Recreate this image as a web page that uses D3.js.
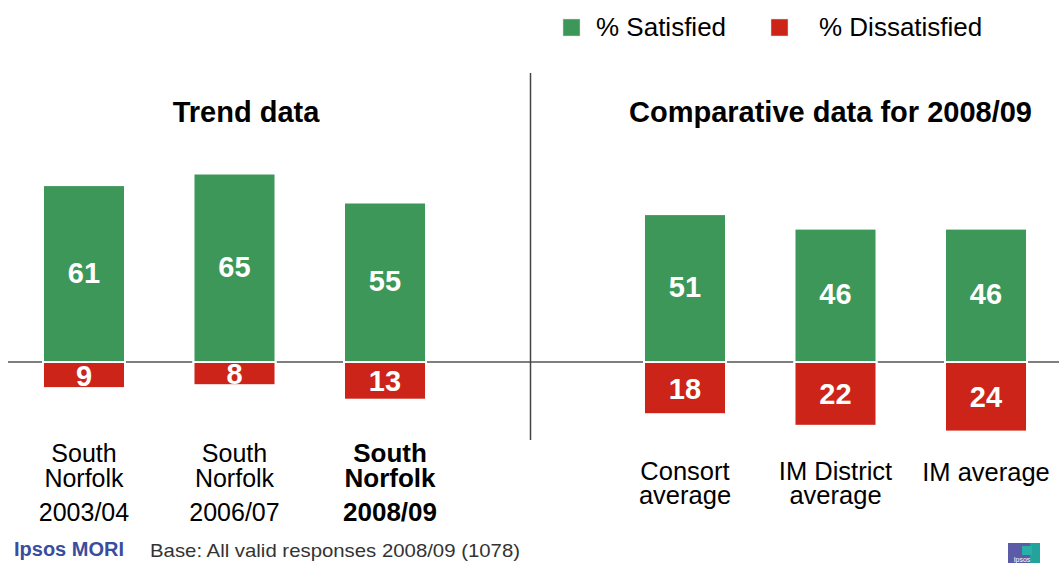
<!DOCTYPE html>
<html>
<head>
<meta charset="utf-8">
<script src="https://cdn.jsdelivr.net/npm/d3@7/dist/d3.min.js"></script>
<style>
  html, body { margin: 0; padding: 0; background: #fff; }
  svg { display: block; font-family: "Liberation Sans", Arial, sans-serif; }
</style>
</head>
<body>
<svg id="chart" width="1059" height="563"></svg>
<script>
// ---- Data ----
const trendCategories = [["South", "Norfolk", "2003/04"], ["South", "Norfolk", "2006/07"], ["South", "Norfolk", "2008/09"]];
const trendSatisfied = [61, 65, 55];
const trendDissatisfied = [9, 8, 13];
const trendBold = [false, false, true];

const compCategories = [["Consort", "average"], ["IM District", "average"], ["IM average"]];
const compSatisfied = [51, 46, 46];
const compDissatisfied = [18, 22, 24];

const legendLabels = ["% Satisfied", "% Dissatisfied"];
const panelTitles = ["Trend data", "Comparative data for 2008/09"];
const baseNote = "Base: All valid responses 2008/09 (1078)";

// ---- Styles ----
const GREEN = "#3d9758";
const RED = "#cc2418";

const svg = d3.select("#chart");

const y = d3.scaleLinear().domain([-25, 65]).range([434.5, 173.5]);
const y0 = y(0);

const xTrend = d3.scaleBand().domain(d3.range(3)).range([-25.5, 494.5]).padding(0.455);
const xComp = d3.scaleBand().domain(d3.range(3)).range([575.5, 1095.5]).padding(0.455);

// baseline
svg.append("line").attr("x1", 8).attr("x2", 1059).attr("y1", y0).attr("y2", y0)
  .attr("stroke", "#555").attr("stroke-width", 1.5);
// divider
svg.append("line").attr("x1", 530.5).attr("x2", 530.5).attr("y1", 73).attr("y2", 440)
  .attr("stroke", "#444").attr("stroke-width", 1.5);

function drawPanel(x, sat, dis) {
  const g = svg.append("g");
  const idx = d3.range(sat.length);
  g.selectAll("rect.sat").data(idx).join("rect")
    .attr("x", i => x(i)).attr("width", x.bandwidth())
    .attr("y", i => y(sat[i])).attr("height", i => y0 - y(sat[i]))
    .attr("fill", GREEN).attr("stroke", "#fff").attr("stroke-width", 2);
  g.selectAll("rect.dis").data(idx).join("rect")
    .attr("x", i => x(i)).attr("width", x.bandwidth())
    .attr("y", y0).attr("height", i => y(-dis[i]) - y0)
    .attr("fill", RED).attr("stroke", "#fff").attr("stroke-width", 2);
  g.selectAll("text.sat").data(idx).join("text")
    .attr("x", i => x(i) + x.bandwidth() / 2)
    .attr("y", i => (y(sat[i]) + y0) / 2 + 9)
    .attr("text-anchor", "middle").attr("fill", "#fff")
    .attr("font-weight", "bold").attr("font-size", 29)
    .text(i => sat[i]);
  g.selectAll("text.dis").data(idx).join("text")
    .attr("x", i => x(i) + x.bandwidth() / 2)
    .attr("y", i => (y(-dis[i]) + y0) / 2 + 10.5)
    .attr("text-anchor", "middle").attr("fill", "#fff")
    .attr("font-weight", "bold").attr("font-size", 29)
    .text(i => dis[i]);
}
drawPanel(xTrend, trendSatisfied, trendDissatisfied);
drawPanel(xComp, compSatisfied, compDissatisfied);

// category labels
trendCategories.forEach((lines, i) => {
  const bold = trendBold[i];
  const t = svg.append("text").attr("text-anchor", "middle").attr("font-size", bold ? 26 : 25)
    .attr("fill", "#000").attr("font-weight", bold ? "bold" : "normal");
  const cx = xTrend(i) + xTrend.bandwidth() / 2 + (bold ? 5 : 0);
  const ys = [461.5, 486.5, 520.5];
  lines.forEach((l, k) => t.append("tspan").attr("x", cx).attr("y", ys[k]).text(l));
});
compCategories.forEach((lines, i) => {
  const t = svg.append("text").attr("text-anchor", "middle").attr("font-size", 25.5).attr("fill", "#000");
  const cx = xComp(i) + xComp.bandwidth() / 2;
  const start = lines.length === 1 ? 481 : 479.5;
  lines.forEach((l, k) => t.append("tspan").attr("x", cx).attr("y", start + k * 24.5).text(l));
});

// titles
svg.append("text").attr("x", 246).attr("y", 122).attr("text-anchor", "middle")
  .attr("font-size", 29).attr("font-weight", "bold").text(panelTitles[0]);
svg.append("text").attr("x", 830.5).attr("y", 122).attr("text-anchor", "middle")
  .attr("font-size", 29).attr("font-weight", "bold").text(panelTitles[1]);

// legend
const legendX = [563, 771];
const legendTextX = [596, 819];
[GREEN, RED].forEach((c, i) => {
  svg.append("rect").attr("x", legendX[i]).attr("y", 19).attr("width", 17).attr("height", 17)
    .attr("fill", c).attr("stroke", "#ddd").attr("stroke-width", 0.5);
  svg.append("text").attr("x", legendTextX[i]).attr("y", 36).attr("font-size", 26)
    .attr("fill", "#000").text(legendLabels[i]);
});

// footer
svg.append("text").attr("x", 14).attr("y", 556).attr("font-size", 20).attr("font-weight", "bold")
  .attr("fill", "#3a4d9c").text("Ipsos MORI");
svg.append("text").attr("x", 150).attr("y", 557).attr("font-size", 19).attr("fill", "#333")
  .attr("textLength", 370).attr("lengthAdjust", "spacingAndGlyphs").text(baseNote);

// small logo
const logo = svg.append("g");
logo.append("rect").attr("x", 1008).attr("y", 543).attr("width", 22).attr("height", 20).attr("fill", "#5b5ba8");
logo.append("rect").attr("x", 1030).attr("y", 543).attr("width", 10).attr("height", 20).attr("fill", "#22a39c");
logo.append("rect").attr("x", 1022).attr("y", 546).attr("width", 10).attr("height", 9).attr("fill", "#27b0a8");
logo.append("text").attr("x", 1022).attr("y", 562).attr("text-anchor", "middle").attr("font-size", 7)
  .attr("fill", "#fff").text("Ipsos");
</script>
</body>
</html>
